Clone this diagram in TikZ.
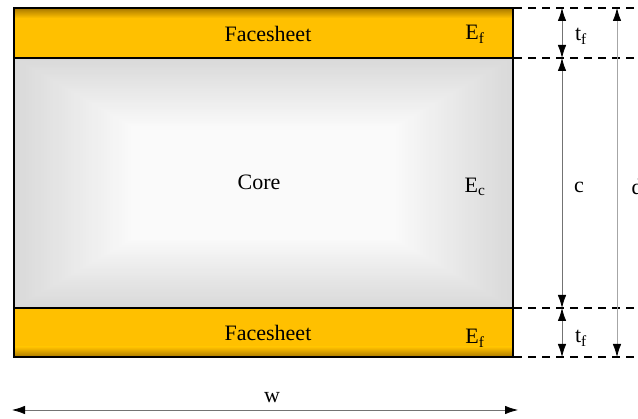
\documentclass[tikz,border=0pt]{standalone}
\usepackage{fontspec}
\setmainfont{Liberation Serif}
\usetikzlibrary{arrows.meta}
\definecolor{faceyellow}{HTML}{FFC000}
\definecolor{facedark}{HTML}{A87800}
\tikzset{
  dimline/.style={draw=black!55, line width=0.8pt,
    {Latex[length=13pt,width=8.5pt,color=black]}-{Latex[length=13pt,width=8.5pt,color=black]}},
  guide/.style={dash pattern=on 8pt off 6pt, line width=1.3pt},
  lbl/.style={font=\fontsize{22}{26}\selectfont, inner sep=0pt}
}
\begin{document}
\begin{tikzpicture}[x=1pt,y=-1pt]
        \useasboundingbox (0,0) rectangle (638,419);

        % core with rectangular gradient
        \foreach \i [evaluate=\i as \g using 15-0.33*\i, evaluate=\i as \dx using 3*\i, evaluate=\i as \dy using 1.75*\i] in {0,...,40}
            {
                \fill[black!\g] (14+\dx,58+\dy) rectangle (513-\dx,308-\dy);
            }

        % facesheets
        \fill[faceyellow] (14,8) rectangle (513,58);
        \shade[top color=facedark, bottom color=faceyellow] (14,8) rectangle (513,18);
        \fill[faceyellow] (14,308) rectangle (513,357);
        \shade[top color=faceyellow, bottom color=facedark] (14,347) rectangle (513,357);
        \draw[line width=1.3pt] (14,8) rectangle (513,357);
        \draw[line width=1.3pt] (14,58) -- (513,58);
        \draw[line width=1.3pt] (14,308) -- (513,308);

        \node[lbl] (topface) at (268,34) {Facesheet};
        \node[lbl] (topmod) at (475,34) {E\textsubscript{f}};
        \node[lbl] (core) at (259,182) {Core};
        \node[lbl] (coremod) at (475,187) {E\textsubscript{c}};
        \node[lbl] (botface) at (268,333) {Facesheet};
        \node[lbl] (botmod) at (475,338) {E\textsubscript{f}};

        % guide lines
        \foreach \y [count=\k] in {8,58,308,357}
            {
                \coordinate (gs\k) at (514,\y);
                \coordinate (ge\k) at (634,\y);
                \draw[guide] (gs\k) -- (ge\k);
                \coordinate (da\k) at (562,\y);
            }

        \draw[dimline] (da1) -- (da2);
        \draw[dimline] (da2) -- (da3);
        \draw[dimline] (da3) -- (da4);
        \coordinate (dtop) at (617,8);
        \coordinate (dbot) at (617,357);
        \draw[dimline, draw=black!35] (dtop) -- (dbot);
        \coordinate (wl) at (12,410);
        \coordinate (wr) at (518,410);
        \draw[dimline] (wl) -- (wr);

        \node[lbl] (tftop) at (581,36) {t\textsubscript{f}};
        \node[lbl] (clbl) at (579,187) {c};
        \node[lbl] (tfbot) at (581,338) {t\textsubscript{f}};
        \node[lbl] (dlbl) at (637,187) {d};
        \node[lbl] (wlbl) at (272,398) {w};
    \end{tikzpicture}
\end{document}
